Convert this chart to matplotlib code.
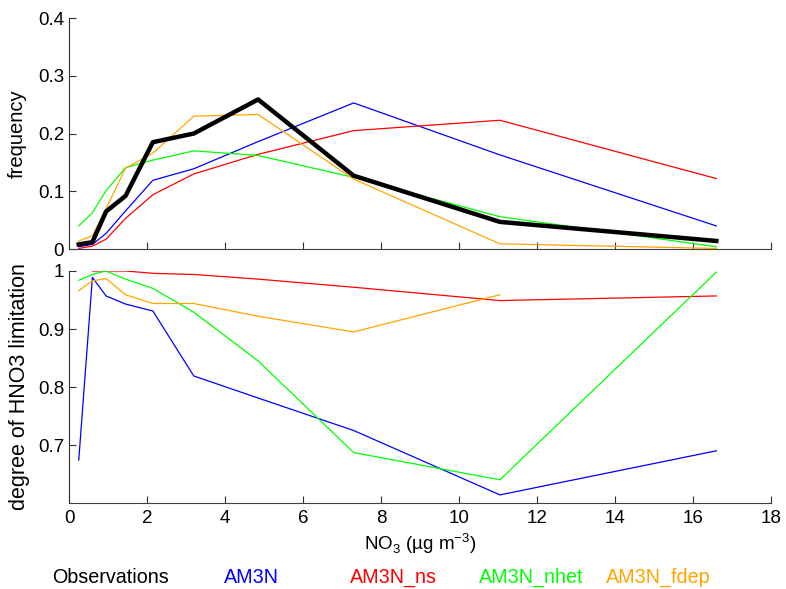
import numpy as np
import matplotlib
matplotlib.use('Agg')
import matplotlib.pyplot as plt

plt.rcParams['font.family'] = ['Liberation Sans', 'DejaVu Sans']
plt.rcParams['mathtext.fontset'] = 'custom'
plt.rcParams['mathtext.rm'] = 'Liberation Sans'

# NO3 bin centres (ug m-3)
no3 = [0.25, 0.6, 0.95, 1.45, 2.15, 3.2, 4.85, 7.3, 11.05, 16.6]

# frequency distributions
freq_obs  = [0.008, 0.012, 0.065, 0.092, 0.185, 0.200, 0.259, 0.127, 0.047, 0.014]
freq_am3n = [0.004, 0.008, 0.027, 0.066, 0.119, 0.139, 0.186, 0.253, 0.163, 0.040]
freq_ns   = [0.001, 0.005, 0.017, 0.053, 0.094, 0.130, 0.164, 0.205, 0.223, 0.122]
freq_nhet = [0.040, 0.063, 0.101, 0.141, 0.154, 0.170, 0.162, 0.124, 0.056, 0.004]
freq_fdep = [0.014, 0.023, 0.070, 0.140, 0.166, 0.230, 0.233, 0.121, 0.009, 0.001]

# degree of HNO3 limitation (nan = no data in bin)
lim_am3n = [0.674, 0.989, 0.957, 0.943, 0.931, 0.819, 0.781, 0.725, 0.614, 0.690]
lim_ns   = [np.nan, 1.000, 1.000, 1.000, 0.996, 0.994, 0.986, 0.972, 0.949, 0.957]
lim_nhet = [0.984, 0.994, 1.000, 0.986, 0.970, 0.929, 0.845, 0.687, 0.640, 0.998]
lim_fdep = [0.966, 0.983, 0.987, 0.959, 0.944, 0.944, 0.922, 0.895, 0.959, np.nan]

names  = ['Observations', 'AM3N', 'AM3N_ns', 'AM3N_nhet', 'AM3N_fdep']
colors = ['k', '#0000ff', '#ff0000', '#00ff00', '#ffa500']

xticks = np.arange(0, 19, 2)
top_yticks = [0, 0.1, 0.2, 0.3, 0.4]
top_ylabels = ['0', '0.1', '0.2', '0.3', '0.4']
bot_yticks = [0.7, 0.8, 0.9, 1.0]
bot_ylabels = ['0.7', '0.8', '0.9', '1']

fig = plt.figure(figsize=(7.86, 5.89), dpi=100)
ax1 = fig.add_axes([0.0878, 0.5772, 0.893, 0.3922])
ax2 = fig.add_axes([0.0878, 0.1460, 0.893, 0.3939])

# top panel: frequency
for y, c in zip([freq_am3n, freq_ns, freq_nhet, freq_fdep], colors[1:]):
    ax1.plot(no3, y, color=c, lw=0.9)
ax1.plot(no3, freq_obs, color='k', lw=3.2)

# bottom panel: HNO3 limitation
for y, c in zip([lim_am3n, lim_ns, lim_nhet, lim_fdep], colors[1:]):
    ax2.plot(no3, y, color=c, lw=0.9)

for ax in (ax1, ax2):
    ax.set_xlim(0, 18)
    ax.set_xticks(xticks)
    ax.spines['top'].set_visible(False)
    ax.spines['right'].set_visible(False)
    ax.spines['left'].set_color('#303030')
    ax.spines['bottom'].set_color('#404040')
    ax.tick_params(direction='in', length=5, labelsize=13.5, width=0.8,
                   color='#303030')
    ax.tick_params(axis='x', pad=5)

ax1.set_ylim(0, 0.4)
ax1.set_yticks(top_yticks)
ax1.set_yticklabels(top_ylabels)
ax1.set_xticklabels([])
ax1.set_ylabel('frequency', fontsize=14.5, labelpad=8)

ax2.set_ylim(0.6, 1.0)
ax2.set_yticks(bot_yticks)
ax2.set_yticklabels(bot_ylabels)
ax2.set_xticklabels([str(v) for v in xticks])
ax2.set_ylabel('degree of HNO3 limitation', fontsize=15.5, labelpad=6)
ax2.set_xlabel('NO$_3$ (µg m$^{-3}$)', fontsize=13.5, labelpad=3)

# colored text legend under the plot
leg_x = [52, 224, 350, 479, 606]
for name, c, px in zip(names, colors, leg_x):
    fig.text(px / 786, 1 - 583 / 589, name, color=c, fontsize=14.2,
             ha='left', va='baseline')

fig.savefig('out.png', dpi=100)
